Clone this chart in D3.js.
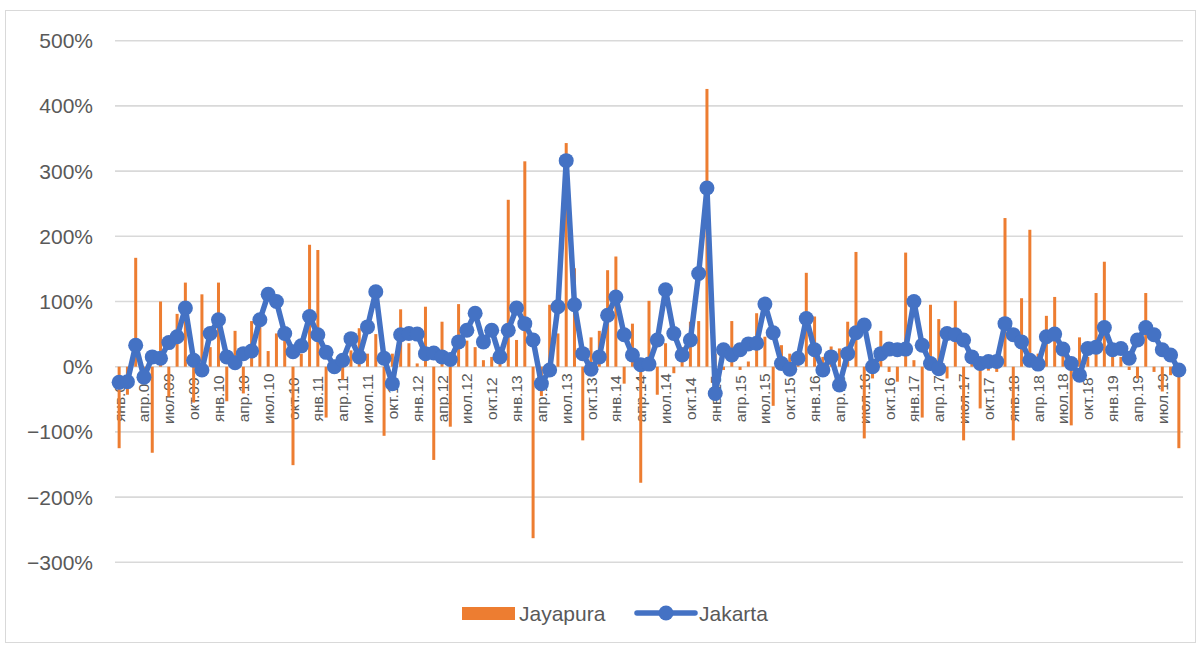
<!DOCTYPE html>
<html>
<head>
<meta charset="utf-8">
<script src="https://cdn.jsdelivr.net/npm/d3@7"></script>
<style>
  html, body { margin: 0; padding: 0; background: #fff; }
  svg { display: block; font-family: "Liberation Sans", Arial, sans-serif; }
</style>
</head>
<body>
<svg id="chart" width="1203" height="648"></svg>
<script>
// ---- data ----
const monthNames = ["янв","фев","мар","апр","май","июн","июл","авг","сен","окт","ноя","дек"];
const years = ["09","10","11","12","13","14","15","16","17","18","19"];
const monthCount = 129; // янв.09 .. сен.19
const categories = [];
for (let i = 0; i < monthCount; i++) {
  categories.push(monthNames[i % 12] + "." + years[Math.floor(i / 12)]);
}
const jayapura = [
  -125, -43, 167, -10, -132, 100, -46, 81, 129, -55, 111, 30,
  129, -53, 55, -41, 70, 61, 24, 51, 51, -151, 20, 187,
  179, -78, 10, -20, 25, 59, 20, 50, -106, 20, 88, 36,
  5, 92, -143, 69, -92, 96, 40, 30, 10, 15, 20, 256,
  41, 315, -263, -45, 95, 51, 343, 151, -113, 45, 55, 148,
  169, -26, 66, -178, 101, -43, 36, -10, 30, 69, 70, 426,
  20, -5, 70, -5, 8, 82, 46, -60, 33, 20, 10, 144,
  77, 15, 31, 28, 69, 176, -110, -18, 55, -8, -23, 175,
  10, -78, 95, 73, -18, 101, -113, 20, -64, -6, -8, 228,
  -113, 105, 210, 20, 78, 107, 25, -90, 45, 15, 113, 161,
  30, 15, -5, -18, 113, -8, -38, -13, -125
];
const jakarta = [
  -24, -23, 33, -16, 15, 13, 37, 46, 90, 10, -5, 51,
  72, 15, 6, 20, 24, 72, 111, 100, 51, 23, 32, 77,
  49, 22, 0, 10, 43, 15, 61, 115, 13, -26, 49, 51,
  50, 20, 21, 15, 11, 38, 56, 82, 38, 56, 15, 56,
  90, 66, 41, -26, -5, 92, 316, 95, 20, -4, 15, 79,
  107, 49, 18, 3, 4, 41, 118, 51, 18, 41, 143, 274,
  -41, 26, 18, 26, 35, 36, 96, 52, 5, -4, 13, 74,
  26, -5, 15, -28, 20, 52, 64, 0, 20, 27, 26, 27,
  100, 33, 5, -3, 51, 49, 41, 15, 5, 8, 8, 66,
  49, 38, 10, 4, 46, 50, 27, 5, -13, 28, 30, 60,
  26, 28, 13, 41, 60, 49, 26, 18, -5
];
const yTicks = [500, 400, 300, 200, 100, 0, -100, -200, -300];
const seriesNames = ["Jayapura", "Jakarta"];

// ---- styles ----
const orange = "#ED7D31";
const blue = "#4472C4";
const gridColor = "#d9d9d9";
const textColor = "#595959";

const svg = d3.select("#chart");

// chart border
svg.append("rect")
  .attr("x", 5.5).attr("y", 10.5).attr("width", 1190).attr("height", 632)
  .attr("fill", "#fff").attr("stroke", "#d9d9d9").attr("stroke-width", 1);

const x = d3.scaleBand().domain(categories).range([115, 1183]).padding(0);
const y = d3.scaleLinear().domain([-300, 500]).range([562.3, 40.7]);

// gridlines
svg.append("g").selectAll("line").data(yTicks).join("line")
  .attr("x1", 115).attr("x2", 1183)
  .attr("y1", d => y(d)).attr("y2", d => y(d))
  .attr("stroke", gridColor).attr("stroke-width", 1.6);

// y axis labels
const fmt = d => (d < 0 ? "\u2212" + Math.abs(d) : d) + "%";
svg.append("g").selectAll("text").data(yTicks).join("text")
  .attr("x", 93).attr("y", d => y(d))
  .attr("text-anchor", "end").attr("dominant-baseline", "central")
  .attr("fill", textColor).attr("font-size", 21)
  .text(fmt);

// x category labels (every 3rd month), drawn at the zero line
const labelCats = categories.filter((c, i) => i % 3 === 0);
svg.append("g").selectAll("text").data(labelCats).join("text")
  .attr("transform", d => `translate(${x(d) + x.bandwidth() / 2},${y(0) + 32}) rotate(-90)`)
  .attr("text-anchor", "middle").attr("dominant-baseline", "central")
  .attr("fill", textColor).attr("font-size", 15.5)
  .text(d => d);

// bars
const barW = 3;
svg.append("g").selectAll("rect").data(jayapura).join("rect")
  .attr("x", (d, i) => x(categories[i]) + x.bandwidth() / 2 - barW / 2)
  .attr("width", barW)
  .attr("y", d => y(Math.max(0, d)))
  .attr("height", d => Math.abs(y(d) - y(0)))
  .attr("fill", orange);

// line
const line = d3.line()
  .x((d, i) => x(categories[i]) + x.bandwidth() / 2)
  .y(d => y(d));
svg.append("path").datum(jakarta)
  .attr("d", line).attr("fill", "none")
  .attr("stroke", blue).attr("stroke-width", 5.5).attr("stroke-linejoin", "round");
svg.append("g").selectAll("circle").data(jakarta).join("circle")
  .attr("cx", (d, i) => x(categories[i]) + x.bandwidth() / 2)
  .attr("cy", d => y(d))
  .attr("r", 7.5)
  .attr("fill", blue);

// legend
const lg = svg.append("g");
lg.append("rect").attr("x", 462).attr("y", 607).attr("width", 53).attr("height", 13).attr("fill", orange);
lg.append("text").attr("x", 519).attr("y", 613).attr("dominant-baseline", "central")
  .attr("fill", textColor).attr("font-size", 21).text(seriesNames[0]);
lg.append("line").attr("x1", 637).attr("x2", 695).attr("y1", 613).attr("y2", 613)
  .attr("stroke", blue).attr("stroke-width", 5.5).attr("stroke-linecap", "round");
lg.append("circle").attr("cx", 666).attr("cy", 613).attr("r", 7.5).attr("fill", blue);
lg.append("text").attr("x", 699).attr("y", 613).attr("dominant-baseline", "central")
  .attr("fill", textColor).attr("font-size", 21).text(seriesNames[1]);
</script>
</body>
</html>
